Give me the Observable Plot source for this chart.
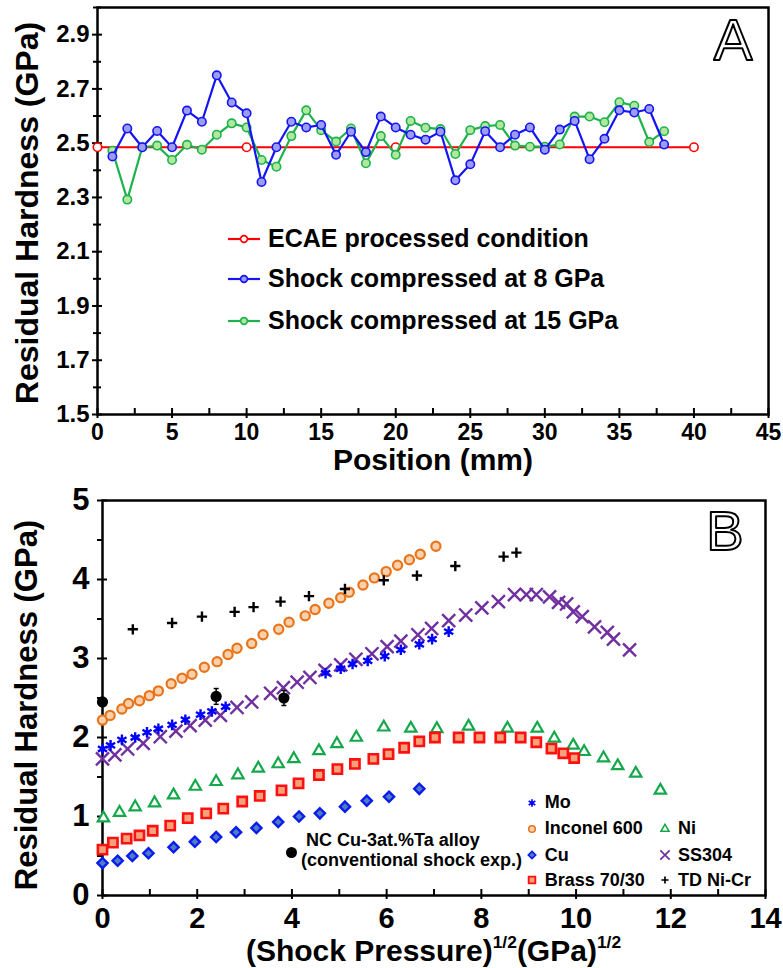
<!DOCTYPE html>
<html>
<head>
<meta charset="utf-8">
<script src="https://cdn.jsdelivr.net/npm/d3@7"></script>
<script src="https://cdn.jsdelivr.net/npm/@observablehq/plot@0.6"></script>
<style>
  html,body{margin:0;padding:0;background:#fff;}
  #wrap{position:relative;width:783px;height:968px;overflow:hidden;font-family:"Liberation Sans",Arial,Helvetica,sans-serif;font-weight:bold;color:#000;}
  #panelA,#panelB{position:absolute;left:0;}
  #panelA{top:0;z-index:1;}
  #panelB{top:480px;}
  .abs{position:absolute;white-space:nowrap;display:flex;align-items:center;z-index:2;}
  sup{font-size:58%;vertical-align:0;position:relative;top:-0.75em;line-height:0;}
</style>
</head>
<body>
<div id="wrap">
  <div id="panelA"></div>
  <div id="panelB"></div>
</div>
<script>
// ---------------- Panel A data ----------------
const positionsA = [1,2,3,4,5,6,7,8,9,10,11,12,13,14,15,16,17,18,19,20,21,22,23,24,25,26,27,28,29,30,31,32,33,34,35,36,37,38];
const shock8GPa = [2.451,2.554,2.485,2.545,2.485,2.620,2.579,2.750,2.650,2.610,2.357,2.485,2.579,2.558,2.567,2.457,2.542,2.467,2.598,2.558,2.531,2.513,2.542,2.363,2.422,2.544,2.485,2.531,2.558,2.476,2.550,2.582,2.441,2.516,2.621,2.613,2.626,2.495];
const shock15GPa = [2.472,2.292,2.485,2.491,2.438,2.494,2.476,2.531,2.573,2.558,2.438,2.413,2.526,2.621,2.548,2.506,2.554,2.426,2.526,2.457,2.582,2.557,2.552,2.460,2.548,2.563,2.567,2.491,2.487,2.487,2.495,2.598,2.598,2.577,2.651,2.638,2.504,2.544];
const ecaePositions = [0,10,20,30,40];
const ecaeHardness = [2.485,2.485,2.485,2.485,2.485];
const legendA = ["ECAE processed condition","Shock compressed at 8 GPa","Shock compressed at 15 GPa"];
const yTicksA = [1.5,1.7,1.9,2.1,2.3,2.5,2.7,2.9];
const yMinorA = [1.6,1.8,2.0,2.2,2.4,2.6,2.8,3.0];
const xTicksA = [0,5,10,15,20,25,30,35,40,45];
const xMinorA = [2.5,7.5,12.5,17.5,22.5,27.5,32.5,37.5,42.5];

// ---------------- Panel B data ----------------
const moX = [0.0,0.17,0.41,0.69,0.94,1.18,1.47,1.75,2.07,2.31,2.60,4.71,5.03,5.28,5.60,5.96,6.30,6.69,6.96,7.31];
const moY = [1.855,1.90,1.97,2.00,2.065,2.11,2.16,2.225,2.29,2.33,2.39,2.815,2.87,2.93,2.97,3.03,3.11,3.18,3.245,3.34];
const inconelX = [0.0,0.16,0.41,0.55,0.78,0.99,1.18,1.45,1.68,1.89,2.15,2.42,2.65,2.84,3.15,3.39,3.72,3.94,4.28,4.49,4.78,5.03,5.21,5.50,5.74,5.99,6.23,6.48,6.71,7.04];
const inconelY = [2.22,2.28,2.36,2.43,2.465,2.53,2.59,2.68,2.75,2.80,2.89,2.96,3.05,3.13,3.19,3.30,3.37,3.46,3.54,3.62,3.70,3.77,3.84,3.93,4.02,4.10,4.18,4.25,4.32,4.42];
const cuX = [0.0,0.32,0.63,0.97,1.50,1.95,2.40,2.82,3.25,3.71,4.15,4.59,5.12,5.58,6.05,6.69];
const cuY = [0.41,0.44,0.50,0.535,0.61,0.68,0.74,0.80,0.855,0.93,1.00,1.04,1.125,1.20,1.25,1.35];
const brassX = [0.0,0.22,0.51,0.78,1.06,1.43,1.80,2.19,2.55,2.95,3.32,3.78,4.14,4.57,4.96,5.33,5.72,6.04,6.37,6.69,7.02,7.52,7.96,8.40,8.83,9.16,9.48,9.73,9.96];
const brassY = [0.58,0.67,0.72,0.76,0.82,0.885,0.98,1.04,1.10,1.19,1.26,1.33,1.42,1.525,1.60,1.665,1.73,1.79,1.87,1.95,2.00,2.00,2.00,2.00,2.00,1.94,1.86,1.80,1.74];
const niX = [0.02,0.36,0.69,1.10,1.50,1.96,2.40,2.86,3.29,3.71,4.04,4.57,4.95,5.36,5.94,6.51,7.06,7.73,8.55,9.18,9.54,9.94,10.17,10.58,10.88,11.26,11.78];
const niY = [0.98,1.05,1.12,1.17,1.27,1.38,1.44,1.525,1.61,1.665,1.73,1.83,1.92,2.00,2.13,2.115,2.11,2.14,2.115,2.115,1.99,1.90,1.82,1.74,1.64,1.545,1.33];
const ss304X = [0.0,0.26,0.53,0.86,1.22,1.55,1.85,2.17,2.49,2.84,3.15,3.55,3.82,4.11,4.38,4.70,5.03,5.35,5.69,6.01,6.30,6.66,6.95,7.31,7.67,8.01,8.36,8.70,8.95,9.16,9.44,9.63,9.80,9.94,10.13,10.39,10.66,10.79,11.13];
const ss304Y = [1.73,1.78,1.855,1.925,2.01,2.08,2.15,2.22,2.28,2.38,2.45,2.56,2.63,2.70,2.76,2.85,2.92,2.99,3.06,3.15,3.22,3.30,3.38,3.48,3.55,3.64,3.72,3.81,3.81,3.81,3.78,3.71,3.69,3.59,3.53,3.40,3.33,3.245,3.11];
const tdX = [0.64,1.47,2.10,2.79,3.19,3.76,4.36,5.12,5.94,6.64,7.45,8.47,8.74];
const tdY = [3.37,3.45,3.53,3.59,3.65,3.72,3.79,3.88,3.99,4.05,4.17,4.29,4.34];
const ncX = [0.0,2.40,3.83];
const ncY = [2.45,2.52,2.50];
const ncErr = [0.0,0.10,0.095];
const ncLabel = ["NC Cu-3at.%Ta alloy","(conventional shock exp.)"];
const yTicksB = [0,1,2,3,4,5];
const yMinorB = [0.5,1.5,2.5,3.5,4.5];
const xTicksB = [0,2,4,6,8,10,12,14];
const xMinorB = [1,3,5,7,9,11,13];

// ---------------- styles ----------------
const FONT = '"Liberation Sans", Arial, Helvetica, sans-serif';
const zip = (xs, ys) => xs.map((x, i) => ({x, y: ys[i]}));

const seriesA = [
  {name: legendA[0], data: zip(ecaePositions, ecaeHardness), stroke: "#ff0000", fill: "#ffffff"},
  {name: legendA[2], data: zip(positionsA, shock15GPa), stroke: "#1db24c", fill: "#b2e89e"},
  {name: legendA[1], data: zip(positionsA, shock8GPa), stroke: "#1414f5", fill: "#9c9cf2"}
];

const chartA = Plot.plot({
  width: 783, height: 480,
  marginLeft: 97, marginRight: 15, marginTop: 7, marginBottom: 66,
  style: {fontFamily: FONT, fontWeight: "bold", fontSize: "24px", color: "#000", background: "transparent", overflow: "visible"},
  x: {domain: [0, 45]},
  y: {domain: [1.5, 3.0]},
  marks: [
    Plot.axisY(yMinorA, {tickSize: 8, dx: 4, fill: "none", strokeWidth: 2, label: null}),
    Plot.axisY(yTicksA, {tickSize: 10, dx: 5, fill: "none", strokeWidth: 2, label: null}),
    Plot.axisY(yTicksA, {tickSize: 5, tickPadding: 3, stroke: "none", tickFormat: d => d.toFixed(1), fontSize: 24, label: null}),
    Plot.axisX(xMinorA, {tickSize: 6, dy: -6, fill: "none", strokeWidth: 2, label: null}),
    Plot.axisX(xTicksA, {tickSize: 10, dy: -6, fill: "none", strokeWidth: 2, label: null}),
    Plot.axisX(xTicksA, {tickSize: 4, tickPadding: 5, stroke: "none", tickFormat: d => String(d), fontSize: 23, label: null}),
    Plot.frame({strokeWidth: 2.5}),
    ...seriesA.flatMap(s => [
      Plot.line(s.data, {x: "x", y: "y", stroke: s.stroke, strokeWidth: 2.2}),
      Plot.dot(s.data, {x: "x", y: "y", r: 4.2, fill: s.fill, stroke: s.stroke, strokeWidth: 1.6})
    ]),
    Plot.text(["A"], {frameAnchor: "top-right", dx: -16, dy: 11, lineAnchor: "top", textAnchor: "end", fontSize: 58, fontWeight: "normal", fill: "#fff", stroke: "#000", strokeWidth: 2, paintOrder: "normal"}),
    Plot.text(["Residual Hardness (GPa)"], {frameAnchor: "left", dx: -70, dy: 2, rotate: -90, textAnchor: "middle", fontSize: 32, fontWeight: "bold"}),
    Plot.text(["Position (mm)"], {frameAnchor: "bottom", dy: 55, textAnchor: "middle", fontSize: 30, fontWeight: "bold"})
  ]
});
document.getElementById("panelA").appendChild(chartA);

const seriesB = [
  {name: "Ni", x: niX, y: niY, symbol: "triangle", r: 4.2, fill: "#ffffff", stroke: "#14a84b", sw: 2.2},
  {name: "Brass 70/30", x: brassX, y: brassY, symbol: "square", r: 5.2, fill: "#f5a27a", stroke: "#ff1010", sw: 2.6},
  {name: "Cu", x: cuX, y: cuY, symbol: "diamond2", r: 4.6, fill: "#4f7dc0", stroke: "#0a1cf0", sw: 2.4},
  {name: "SS304", x: ss304X, y: ss304Y, symbol: "times", r: 6.0, fill: "none", stroke: "#7030a0", sw: 2.4},
  {name: "Mo", x: moX, y: moY, symbol: "asterisk", r: 5.0, fill: "none", stroke: "#0000ff", sw: 2.4},
  {name: "Inconel 600", x: inconelX, y: inconelY, symbol: "circle", r: 4.6, fill: "#fbd0ac", stroke: "#e8751a", sw: 2.2},
  {name: "TD Ni-Cr", x: tdX, y: tdY, symbol: "plus", r: 3.4, fill: "none", stroke: "#000000", sw: 2.4}
];
const ncData = ncX.map((x, i) => ({x, y: ncY[i], lo: ncY[i] - ncErr[i], hi: ncY[i] + ncErr[i]}));
const capSymbol = {draw(ctx, size) { const r = Math.sqrt(size / Math.PI); ctx.moveTo(-r, 0); ctx.lineTo(r, 0); }};

const chartB = Plot.plot({
  width: 783, height: 488,
  marginLeft: 102, marginRight: 18, marginTop: 20, marginBottom: 73,
  style: {fontFamily: FONT, fontWeight: "bold", fontSize: "28px", color: "#000", background: "transparent", overflow: "visible"},
  x: {domain: [0, 14]},
  y: {domain: [0, 5]},
  marks: [
    Plot.axisY(yMinorB, {tickSize: 5, dx: 0, fill: "none", strokeWidth: 2, label: null}),
    Plot.axisY(yTicksB, {tickSize: 10, dx: 5, fill: "none", strokeWidth: 2, label: null}),
    Plot.axisY(yTicksB, {tickSize: 5, tickPadding: 8, stroke: "none", tickFormat: d => String(d), fontSize: 31, label: null}),
    Plot.axisX(xMinorB, {tickSize: 6, dy: -6, fill: "none", strokeWidth: 2, label: null}),
    Plot.axisX(xTicksB, {tickSize: 10, dy: -6, fill: "none", strokeWidth: 2, label: null}),
    Plot.axisX(xTicksB, {tickSize: 4, tickPadding: 8, stroke: "none", tickFormat: d => String(d), fontSize: 29, label: null}),
    Plot.frame({strokeWidth: 2.5}),
    ...seriesB.map(s => Plot.dot(zip(s.x, s.y), {x: "x", y: "y", symbol: s.symbol, r: s.r, fill: s.fill, stroke: s.stroke, strokeWidth: s.sw})),
    Plot.ruleX(ncData.filter(d => d.hi > d.lo), {x: "x", y1: "lo", y2: "hi", stroke: "#000", strokeWidth: 1.5}),
    Plot.dot(ncData.filter(d => d.hi > d.lo), {x: "x", y: "lo", symbol: capSymbol, r: 2.5, stroke: "#000", strokeWidth: 1.5}),
    Plot.dot(ncData.filter(d => d.hi > d.lo), {x: "x", y: "hi", symbol: capSymbol, r: 2.5, stroke: "#000", strokeWidth: 1.5}),
    Plot.dot(ncData, {x: "x", y: "y", r: 5.6, fill: "#000"}),
    Plot.text(["B"], {frameAnchor: "top-right", dx: -22, dy: 10, lineAnchor: "top", textAnchor: "end", fontSize: 56, fontWeight: "normal", fill: "#fff", stroke: "#000", strokeWidth: 2, paintOrder: "normal"}),
    Plot.text(["Residual Hardness (GPa)"], {frameAnchor: "left", dx: -75, dy: 7, rotate: -90, textAnchor: "middle", fontSize: 31, fontWeight: "bold"})
  ]
});
document.getElementById("panelB").appendChild(chartB);

// ---------------- overlays: legends & titles ----------------
const wrap = document.getElementById("wrap");
function symbolSvg(sym, r, fill, stroke, sw, w, h, line) {
  const ns = "http://www.w3.org/2000/svg";
  const svg = document.createElementNS(ns, "svg");
  svg.setAttribute("width", w); svg.setAttribute("height", h);
  svg.style.overflow = "visible"; svg.style.flex = "none";
  if (line) {
    const l = document.createElementNS(ns, "line");
    l.setAttribute("x1", 0); l.setAttribute("x2", w); l.setAttribute("y1", h / 2); l.setAttribute("y2", h / 2);
    l.setAttribute("stroke", stroke); l.setAttribute("stroke-width", 2.2);
    svg.appendChild(l);
  }
  const symMap = {circle: d3.symbolCircle, triangle: d3.symbolTriangle, square: d3.symbolSquare, diamond2: d3.symbolDiamond2, times: d3.symbolTimes, asterisk: d3.symbolAsterisk, plus: d3.symbolPlus};
  const p = document.createElementNS(ns, "path");
  p.setAttribute("d", d3.symbol(symMap[sym], Math.PI * r * r)());
  p.setAttribute("transform", `translate(${w / 2},${h / 2})`);
  p.setAttribute("fill", fill); p.setAttribute("stroke", stroke); p.setAttribute("stroke-width", sw);
  svg.appendChild(p);
  return svg;
}
function addItem(left, top, svg, text, fontSize, gap) {
  const d = document.createElement("div");
  d.className = "abs";
  d.style.left = left + "px"; d.style.top = top + "px"; d.style.fontSize = fontSize + "px";
  d.appendChild(svg);
  const s = document.createElement("span");
  s.textContent = text; s.style.marginLeft = gap + "px";
  d.appendChild(s);
  wrap.appendChild(d);
}
// Legend A
const legendAOrder = [seriesA[0], seriesA[2], seriesA[1]];
const legendARowsY = [239, 279, 321];
legendAOrder.forEach((s, i) => {
  const svg = symbolSvg("circle", 3.4, s.fill, s.stroke, 1.6, 32, 20, true);
  addItem(228, legendARowsY[i] - 15, svg, s.name, 25, 8);
});
// Legend B
const legBLayout = {
  "Mo": [531.7, 804], "Inconel 600": [531.7, 830], "Cu": [531.7, 856.7], "Brass 70/30": [531.7, 881.7],
  "Ni": [665, 830], "SS304": [665, 856.7], "TD Ni-Cr": [665, 881.7]
};
seriesB.forEach(s => {
  const [cx, cy] = legBLayout[s.name];
  const svg = symbolSvg(s.symbol, s.r * 0.72, s.fill, s.stroke, s.sw * 0.7, 14, 14, false);
  addItem(cx - 7, cy - 12, svg, s.name, 18, 6);
});
// NC annotation
const ncDot = document.createElement("div");
ncDot.style.cssText = "position:absolute;left:285.5px;top:847px;width:11px;height:11px;border-radius:50%;background:#000;";
wrap.appendChild(ncDot);
[[306, 829, ncLabel[0]], [301, 849, ncLabel[1]]].forEach(([l, t, txt]) => {
  const d = document.createElement("div");
  d.className = "abs"; d.style.left = l + "px"; d.style.top = t + "px"; d.style.fontSize = "18px"; d.style.lineHeight = "22px";
  d.textContent = txt; wrap.appendChild(d);
});
// X title of panel B (with superscripts)
const xt = document.createElement("div");
xt.style.cssText = "position:absolute;left:102px;width:663px;top:934px;text-align:center;font-size:30px;line-height:34px;white-space:nowrap;";
xt.innerHTML = "(Shock Pressure)<sup>1/2</sup>(GPa)<sup>1/2</sup>";
wrap.appendChild(xt);
</script>
</body>
</html>
